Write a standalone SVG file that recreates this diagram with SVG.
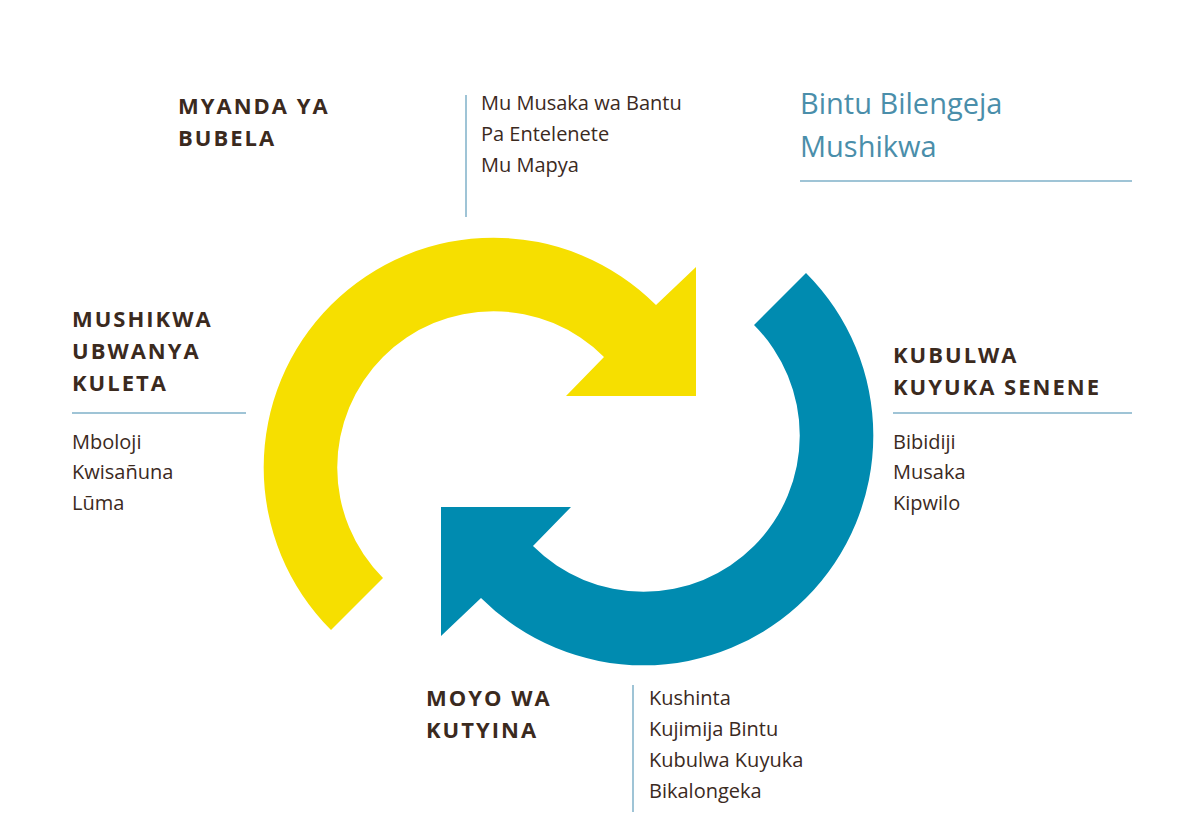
<svg xmlns="http://www.w3.org/2000/svg" width="1200" height="821" viewBox="0 0 1200 821">
<style>
.h{font-family:"Open Sans","Liberation Sans",sans-serif;font-weight:bold;font-size:22px;letter-spacing:2px;fill:#3b2a1e}
.b{font-family:"Open Sans","Liberation Sans",sans-serif;font-size:20px;fill:#3b2a1e}
.t{font-family:"Open Sans","Liberation Sans",sans-serif;font-size:29px;fill:#4a8eaa}
.l{stroke:#7fb0c8;stroke-width:1.5;fill:none}
</style>
<rect width="1200" height="821" fill="#fff"/>
<g id="connectors">
<path id="yellow-arrow" fill="#f6df00" d="M 331,630 A 229 229 0 1 1 656,305 L 696,267 L 696,396 L 566,396 L 604,357 A 154 154 0 1 0 383,578 Z"/>
<path id="blue-arrow" fill="#008bb0" d="M 806,273 A 229 229 0 1 1 481,598 L 441,636 L 441,507 L 571,507 L 533,546 A 154 154 0 1 0 754,325 Z"/>
</g>
<g id="title">
<text class="t" x="800" y="114">Bintu Bilengeja</text>
<text class="t" x="800" y="157">Mushikwa</text>
<line class="l" x1="800" y1="181" x2="1132" y2="181"/>
</g>
<g id="node-top">
<text class="h" x="178" y="114">MYANDA YA</text>
<text class="h" x="178" y="146">BUBELA</text>
<line class="l" x1="466" y1="95" x2="466" y2="217"/>
<text class="b" x="481" y="110">Mu Musaka wa Bantu</text>
<text class="b" x="481" y="141">Pa Entelenete</text>
<text class="b" x="481" y="172">Mu Mapya</text>
</g>
<g id="node-left">
<text class="h" x="72" y="327">MUSHIKWA</text>
<text class="h" x="72" y="359">UBWANYA</text>
<text class="h" x="72" y="391">KULETA</text>
<line class="l" x1="72" y1="413" x2="246" y2="413"/>
<text class="b" x="72" y="449">Mboloji</text>
<text class="b" x="72" y="479">Kwisañuna</text>
<text class="b" x="72" y="510">Lūma</text>
</g>
<g id="node-right">
<text class="h" x="893" y="363">KUBULWA</text>
<text class="h" x="893" y="395">KUYUKA SENENE</text>
<line class="l" x1="893" y1="413" x2="1132" y2="413"/>
<text class="b" x="893" y="449">Bibidiji</text>
<text class="b" x="893" y="479">Musaka</text>
<text class="b" x="893" y="510">Kipwilo</text>
</g>
<g id="node-bottom">
<text class="h" x="426" y="706">MOYO WA</text>
<text class="h" x="426" y="738">KUTYINA</text>
<line class="l" x1="633" y1="685" x2="633" y2="812"/>
<text class="b" x="649" y="705">Kushinta</text>
<text class="b" x="649" y="736">Kujimija Bintu</text>
<text class="b" x="649" y="767">Kubulwa Kuyuka</text>
<text class="b" x="649" y="798">Bikalongeka</text>
</g>
</svg>
